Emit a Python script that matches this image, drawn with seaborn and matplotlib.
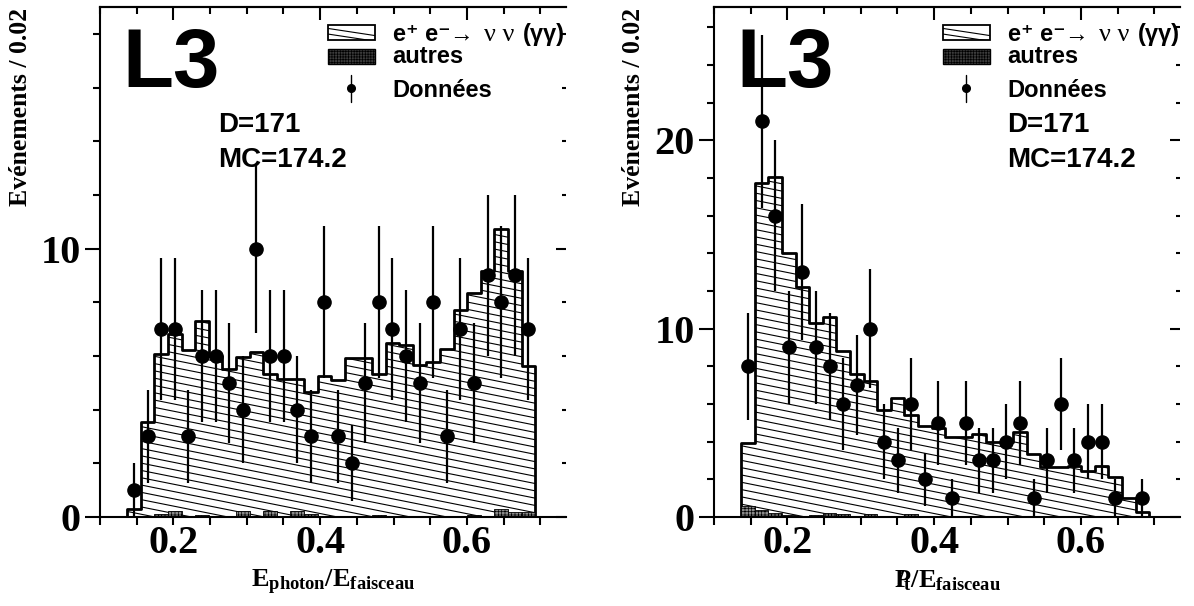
import numpy as np
import pandas as pd
import matplotlib
matplotlib.use("Agg")
import matplotlib.pyplot as plt
import seaborn as sns
from matplotlib.collections import LineCollection
from matplotlib.patches import Polygon, Rectangle
from matplotlib.ticker import MultipleLocator, NullFormatter

# ─────────────────────────────────────────────────────────────
#  Data (30 bins, same binning both panels)
# ─────────────────────────────────────────────────────────────
bin_lo, bin_hi, n_bins = 0.137, 0.693, 30

# left panel : E_photon / E_faisceau
egam_data = [1, 3, 7, 7, 3, 6, 6, 5, 4, 10, 6, 6, 4, 3, 8,
             3, 2, 5, 8, 7, 6, 5, 8, 3, 7, 5, 9, 8, 9, 7]
egam_mc = [0.29, 3.53, 6.07, 6.80, 6.23, 7.29, 5.98, 5.51, 5.96, 6.16,
           5.34, 5.15, 5.15, 4.64, 5.24, 5.11, 5.91, 5.91, 5.31, 6.48,
           6.42, 5.65, 5.76, 6.26, 7.70, 8.35, 9.18, 10.73, 9.15, 5.63]
egam_autres = [0, 0, 0.10, 0.22, 0, 0.07, 0, 0, 0.22, 0.05,
               0.22, 0, 0.22, 0.12, 0.05, 0, 0, 0, 0.07, 0,
               0, 0, 0, 0, 0, 0.07, 0, 0.29, 0.19, 0.19]

# right panel : missing Pt / E_faisceau
pt_data = [8, 21, 16, 9, 13, 9, 8, 6, 7, 10, 4, 3, 6, 2, 5,
           1, 5, 3, 3, 4, 5, 1, 3, 6, 3, 4, 4, 1, 0, 1]
pt_mc = [3.93, 17.71, 18.07, 14.00, 12.23, 10.32, 10.60, 8.83, 7.57, 7.20,
         5.70, 6.29, 5.40, 4.85, 4.75, 4.27, 4.27, 4.41, 4.00, 4.00,
         4.49, 3.35, 2.65, 2.65, 2.73, 2.46, 2.71, 2.11, 1.03, 0.28]
pt_autres = [0.60, 0.35, 0.22, 0.08, 0, 0.10, 0.22, 0.15, 0, 0.14,
             0, 0, 0.14, 0, 0, 0, 0, 0, 0, 0,
             0, 0, 0, 0, 0, 0, 0, 0, 0, 0]

stat_d = "D=171"
stat_mc = "MC=174.2"
legend_labels = ["autres", "Données"]
ylabel = "Evénements / 0.02"
xlabel_left = r"$\mathbf{E_{photon}/E_{faisceau}}$"
xlabel_right = r"$\mathbf{P\!\!\!\!/_{t}/E_{faisceau}}$"

# ─────────────────────────────────────────────────────────────
#  Style
# ─────────────────────────────────────────────────────────────
sns.set_theme(style="ticks")
plt.rcParams["font.family"] = ["Liberation Serif", "DejaVu Serif"]
plt.rcParams["font.weight"] = "bold"
plt.rcParams["mathtext.fontset"] = "custom"
plt.rcParams["mathtext.rm"] = "Liberation Serif:bold"
plt.rcParams["mathtext.bf"] = "Liberation Serif:bold"
plt.rcParams["mathtext.it"] = "Liberation Serif:bold:italic"
plt.rcParams["axes.linewidth"] = 1.5
plt.rcParams["hatch.linewidth"] = 0.5
for key in ["text.color", "axes.labelcolor", "axes.edgecolor",
            "xtick.color", "ytick.color"]:
    plt.rcParams[key] = "black"

SANS = ["Liberation Sans", "DejaVu Sans"]
W_PX, H_PX = 1194, 606
AX_W_PX, AX_H_PX = 466, 510
HATCH_SLOPE = -0.2 * AX_W_PX / AX_H_PX     # shallow ROOT-like hatch
HATCH_STEP = 7.3 / AX_H_PX

edges = np.linspace(bin_lo, bin_hi, n_bins + 1)
centers = 0.5 * (edges[:-1] + edges[1:])
bin_w = edges[1] - edges[0]


def hatch_lines(ax, clip_patch, zorder=1.5):
    offs = np.arange(-0.05, 1.3, HATCH_STEP)
    segs = [[(0, c), (1, c + HATCH_SLOPE)] for c in offs]
    lc = LineCollection(segs, colors="black", linewidths=0.8,
                        transform=ax.transAxes, zorder=zorder)
    ax.add_collection(lc, autolim=False)
    lc.set_clip_path(clip_patch)


def draw_panel(ax, data, mc, autres, ymax, xlabel, leg_x, stat_x, ylab_x):
    mc = np.asarray(mc, float)

    # MC total outline (seaborn step histogram)
    df = pd.DataFrame({"x": centers, "w": mc})
    sns.histplot(data=df, x="x", weights="w", bins=n_bins,
                 binrange=(bin_lo, bin_hi), element="step", fill=True,
                 color="black", facecolor="none", edgecolor="black",
                 linewidth=2.0, ax=ax, zorder=2)

    # hatching clipped to the histogram shape
    step_x = np.repeat(edges, 2)
    step_y = np.concatenate([[0], np.repeat(mc, 2), [0]])
    clip = Polygon(np.column_stack([step_x, step_y]), closed=True,
                   transform=ax.transData)
    hatch_lines(ax, clip)

    # other backgrounds
    a = np.asarray(autres, float)
    k = a > 0
    ax.bar(centers[k], a[k], width=bin_w, color="#8a8a8a", edgecolor="black",
           hatch="+++++", linewidth=0.6, zorder=2.5)

    # data points
    d = np.asarray(data, float)
    k = d > 0
    ax.errorbar(centers[k], d[k], yerr=np.sqrt(d[k]), fmt="o", color="black",
                ms=9.5, elinewidth=1.6, capsize=0, zorder=3)

    # axes
    ax.set_xlim(0.1, 0.735)
    ax.set_ylim(0, ymax)
    ax.xaxis.set_major_locator(MultipleLocator(0.2))
    ax.xaxis.set_minor_locator(MultipleLocator(0.05))
    ax.yaxis.set_major_locator(MultipleLocator(10))
    ax.yaxis.set_minor_locator(MultipleLocator(2))
    ax.spines["right"].set_visible(False)
    ax.tick_params(axis="both", which="both", direction="out", width=1.5,
                   top=False, right=False)
    ax.tick_params(axis="x", which="both", length=5.5, labelsize=29, pad=0)
    ax.tick_params(axis="y", which="major", length=10.8, labelsize=29, pad=3)
    ax.tick_params(axis="y", which="minor", length=5)

    top = ax.secondary_xaxis("top")
    top.xaxis.set_major_locator(MultipleLocator(0.2))
    top.xaxis.set_minor_locator(MultipleLocator(0.05))
    top.xaxis.set_major_formatter(NullFormatter())
    top.tick_params(which="both", direction="in", width=1.5, labeltop=False)
    top.tick_params(which="major", length=9)
    top.tick_params(which="minor", length=5)

    right = ax.secondary_yaxis("right")
    right.yaxis.set_major_locator(MultipleLocator(10))
    right.yaxis.set_minor_locator(MultipleLocator(2))
    right.yaxis.set_major_formatter(NullFormatter())
    right.tick_params(which="both", direction="in", width=1.5, labelright=False)
    right.tick_params(which="major", length=7.2)
    right.tick_params(which="minor", length=3)
    for s in right.spines.values():
        s.set_visible(False)

    ax.set_xlabel(xlabel, fontsize=19)
    ax.xaxis.set_label_coords(0.5, -0.10)
    ax.set_ylabel(ylabel, fontsize=18.5, fontweight="bold", loc="top")
    ax.yaxis.set_label_coords(ylab_x, 0.998)

    # experiment tag
    ax.text(0.047, 0.843, "L3", transform=ax.transAxes, fontsize=60,
            family=SANS, weight="bold", va="baseline", ha="left")

    # hand-made legend (ROOT style)
    bw, bh = 0.101, 0.030
    r1 = Rectangle((leg_x, 0.935), bw, bh, transform=ax.transAxes,
                   facecolor="white", edgecolor="black", lw=1.3, zorder=4)
    ax.add_patch(r1)
    segs = [[(leg_x, 0.958), (leg_x + bw, 0.944)],
            [(leg_x, 0.947), (leg_x + bw, 0.933)]]
    lc = LineCollection(segs, colors="black", linewidths=0.8,
                        transform=ax.transAxes, zorder=4.5)
    ax.add_collection(lc, autolim=False)
    lc.set_clip_path(r1)
    ax.add_patch(Rectangle((leg_x, 0.888), bw, bh, transform=ax.transAxes,
                           facecolor="#3c3c3c", edgecolor="black",
                           hatch="++++++", lw=1.0, zorder=4))
    mx = leg_x + bw / 2
    ax.plot([mx, mx], [0.814, 0.867], color="black", lw=1.0,
            transform=ax.transAxes, zorder=4)
    ax.plot([mx], [0.841], "o", color="black", ms=5.5,
            transform=ax.transAxes, zorder=4.5)

    tx = leg_x + 0.139
    ax.text(tx, 0.933, "e⁺ e⁻", transform=ax.transAxes, fontsize=17,
            family=SANS, weight="bold", va="baseline")
    ax.text(tx + 0.122, 0.933, "→", transform=ax.transAxes, fontsize=17,
            family=["Liberation Serif", "DejaVu Serif"], weight="normal",
            va="baseline")
    ax.text(tx + 0.197, 0.933, "ν ν", transform=ax.transAxes, fontsize=19,
            family=["Liberation Serif", "DejaVu Serif"], weight="normal",
            va="baseline")
    ax.text(tx + 0.279, 0.933, "(γγ)", transform=ax.transAxes, fontsize=17,
            family=SANS, weight="bold", va="baseline")
    ax.text(tx, 0.890, legend_labels[0], transform=ax.transAxes, fontsize=17,
            family=SANS, weight="bold", va="baseline")
    ax.text(tx, 0.8235, legend_labels[1], transform=ax.transAxes, fontsize=17,
            family=SANS, weight="bold", va="baseline")

    ax.text(stat_x, 0.755, stat_d, transform=ax.transAxes, fontsize=20,
            family=SANS, weight="bold", va="baseline")
    ax.text(stat_x, 0.686, stat_mc, transform=ax.transAxes, fontsize=20,
            family=SANS, weight="bold", va="baseline")


fig = plt.figure(figsize=(W_PX / 100, H_PX / 100), dpi=100)
ax_l = fig.add_axes([100 / W_PX, 89 / H_PX, AX_W_PX / W_PX, AX_H_PX / H_PX])
ax_r = fig.add_axes([714 / W_PX, 89 / H_PX, AX_W_PX / W_PX, AX_H_PX / H_PX])

draw_panel(ax_l, egam_data, egam_mc, egam_autres, 19.0, xlabel_left,
           leg_x=0.489, stat_x=0.2526, ylab_x=-0.146)
draw_panel(ax_r, pt_data, pt_mc, pt_autres, 27.07, xlabel_right,
           leg_x=0.491, stat_x=0.629, ylab_x=-0.148)

fig.savefig("out.png", dpi=100, facecolor="white")
